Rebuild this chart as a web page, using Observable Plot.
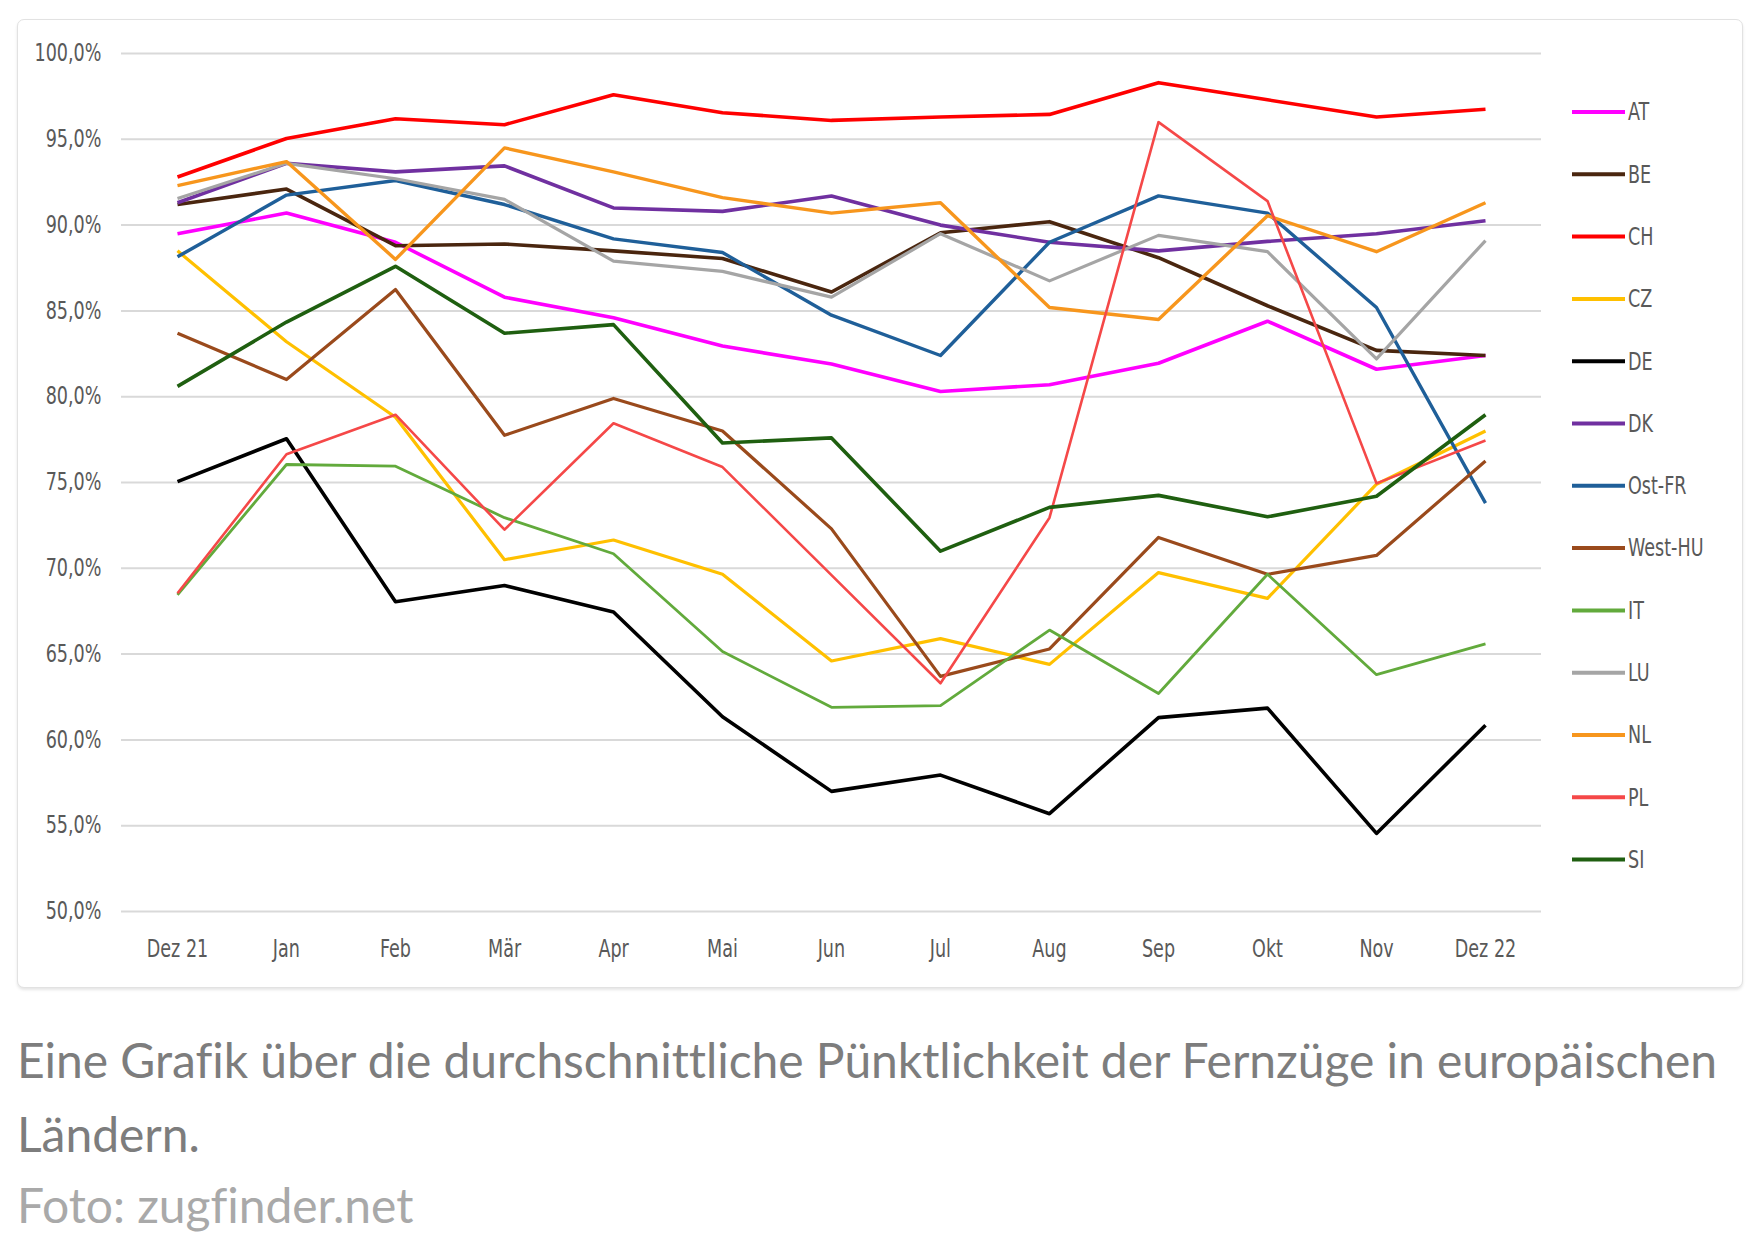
<!DOCTYPE html>
<html>
<head>
<meta charset="utf-8">
<script src="https://cdn.jsdelivr.net/npm/d3@7"></script>
<script src="https://cdn.jsdelivr.net/npm/@observablehq/plot@0.6"></script>
<style>
  html, body { margin: 0; padding: 0; background: #ffffff; }
  body { width: 1761px; height: 1250px; position: relative; overflow: hidden; }
  #card {
    position: absolute; left: 17px; top: 19px; width: 1724px; height: 967px;
    border: 1.5px solid #e2e2e2; border-radius: 7px;
    box-shadow: 0 2px 3px rgba(0,0,0,0.10);
    background: #ffffff;
  }
  #chart { position: absolute; left: 17px; top: 19px; }
  #legend { position: absolute; left: 17px; top: 19px; }
  .caption {
    position: absolute; left: 17px; font-family: Lato, sans-serif;
    font-size: 48px; color: #7d7d7d; white-space: nowrap; letter-spacing: -0.05px;
  }
  #credit { color: #a9a9a9; }
  svg text { font-family: "Liberation Sans Narrow", "DejaVu Sans Condensed", sans-serif; }
</style>
</head>
<body>
<div id="card"></div>
<div id="chart"></div>
<svg id="legend" width="1726" height="969"></svg>
<div class="caption" id="cap1" style="top:1031px;">Eine Grafik über die durchschnittliche Pünktlichkeit der Fernzüge in europäischen</div>
<div class="caption" id="cap2" style="top:1105px;">Ländern.</div>
<div class="caption" id="credit" style="top:1176px;">Foto: zugfinder.net</div>
<script>
const months = ["Dez 21","Jan","Feb","Mär","Apr","Mai","Jun","Jul","Aug","Sep","Okt","Nov","Dez 22"];
const countries = ["AT","BE","CH","CZ","DE","DK","Ost-FR","West-HU","IT","LU","NL","PL","SI"];
const colors = ["#ff00ff","#4a260f","#ff0000","#ffc000","#000000","#7030a0","#1f5f99","#9a4a1c","#62aa3c","#a5a5a5","#f7961d","#f54848","#1f5f10"];
const widths = [3.6,3.6,3.6,3.2,3.6,3.6,3.4,3.2,2.8,3.2,3.4,2.6,3.6];
const yTicks = [50,55,60,65,70,75,80,85,90,95,100];

const AT     = [89.5, 90.7, 89.0, 85.8, 84.6, 82.95, 81.9, 80.3, 80.7, 81.95, 84.4, 81.6, 82.4];
const BE     = [91.2, 92.1, 88.8, 88.9, 88.5, 88.05, 86.1, 89.55, 90.2, 88.1, 85.3, 82.7, 82.4];
const CH     = [92.8, 95.05, 96.2, 95.85, 97.6, 96.55, 96.1, 96.3, 96.45, 98.3, 97.3, 96.3, 96.75];
const CZ     = [88.5, 83.2, 78.8, 70.5, 71.65, 69.65, 64.6, 65.9, 64.4, 69.75, 68.25, 74.9, 78.0];
const DE     = [75.05, 77.55, 68.05, 69.0, 67.45, 61.35, 57.0, 57.95, 55.7, 61.3, 61.85, 54.55, 60.85];
const DK     = [91.3, 93.6, 93.1, 93.45, 91.0, 90.8, 91.7, 90.0, 89.0, 88.5, 89.05, 89.5, 90.25];
const OstFR  = [88.15, 91.75, 92.6, 91.2, 89.2, 88.4, 84.75, 82.4, 89.0, 91.7, 90.7, 85.2, 73.8];
const WestHU = [83.7, 81.0, 86.25, 77.75, 79.9, 78.0, 72.3, 63.7, 65.3, 71.8, 69.65, 70.75, 76.25];
const IT     = [68.45, 76.05, 75.95, 72.95, 70.85, 65.15, 61.9, 62.0, 66.4, 62.7, 69.65, 63.8, 65.6];
const LU     = [91.55, 93.6, 92.7, 91.5, 87.9, 87.3, 85.8, 89.5, 86.75, 89.4, 88.45, 82.2, 89.1];
const NL     = [92.3, 93.7, 88.0, 94.5, 93.1, 91.6, 90.7, 91.3, 85.2, 84.5, 90.55, 88.45, 91.3];
const PL     = [68.55, 76.65, 78.95, 72.25, 78.45, 75.9, 69.6, 63.3, 72.95, 96.0, 91.4, 74.95, 77.45];
const SI     = [80.6, 84.35, 87.6, 83.7, 84.2, 77.3, 77.6, 71.0, 73.55, 74.25, 73.0, 74.2, 78.95];

const seriesValues = [AT, BE, CH, CZ, DE, DK, OstFR, WestHU, IT, LU, NL, PL, SI];

const fmt = d => d.toFixed(1).replace(".", ",") + "%";

const lineMarks = countries.map((c, i) =>
  Plot.line(seriesValues[i].map((v, j) => ({month: months[j], value: v, country: c})), {
    x: "month", y: "value", stroke: "country",
    strokeWidth: widths[i], strokeLinejoin: "round", strokeLinecap: "butt"
  })
);

const chart = Plot.plot({
  width: 1726,
  height: 969,
  marginLeft: 104,
  marginRight: 202,
  marginTop: 34,
  marginBottom: 77,
  style: {fontFamily: '"Liberation Sans Narrow", "DejaVu Sans Condensed", sans-serif', fontSize: "24px", color: "#595959", background: "transparent", overflow: "visible"},
  x: {type: "point", domain: months, padding: 0.5, label: null, tickSize: 0, tickPadding: 28},
  y: {domain: [50, 100], ticks: yTicks, tickFormat: fmt, label: null, tickSize: 0, tickPadding: 20},
  color: {domain: countries, range: colors},
  marks: [
    Plot.ruleY(yTicks, {stroke: "#d9d9d9", strokeWidth: 2}),
    ...lineMarks
  ]
});
document.getElementById("chart").appendChild(chart);

// legend
const lg = d3.select("#legend");
const legY0 = 93, legStep = 62.3;
countries.forEach((c, i) => {
  const y = legY0 + i * legStep;
  lg.append("line").attr("x1", 1555).attr("x2", 1608).attr("y1", y).attr("y2", y)
    .attr("stroke", colors[i]).attr("stroke-width", 4);
  lg.append("text").attr("x", 1611).attr("y", y).attr("dy", "0.35em")
    .attr("fill", "#595959").attr("font-size", 24).text(c);
});

// condensed look: scale text horizontally to match a narrow chart font
(function condense() {
  const probe = d3.select("#legend").append("text").attr("font-size", 24).attr("x", -1000).attr("y", -1000).text("100,0%");
  const w = probe.node().getComputedTextLength();
  probe.remove();
  const k = 67 / w;
  if (Math.abs(k - 1) < 0.03) return;
  document.querySelectorAll("#chart svg text, #legend text").forEach(el => {
    const a = getComputedStyle(el).textAnchor;
    const ox = a === "end" ? "100%" : a === "middle" ? "50%" : "0%";
    let pre = "";
    const t = el.getAttribute("transform");
    if (t) {
      const m = /translate\(\s*([-\d.e]+)[ ,]*([-\d.e]+)?\s*\)/.exec(t);
      if (m) pre = "translate(" + (+m[1]) + "px," + (+(m[2] || 0)) + "px) ";
      el.removeAttribute("transform");
    }
    el.style.transformBox = "fill-box";
    el.style.transformOrigin = ox + " 50%";
    el.style.transform = pre + "scaleX(" + k.toFixed(3) + ")";
  });
})();
</script>
</body>
</html>
